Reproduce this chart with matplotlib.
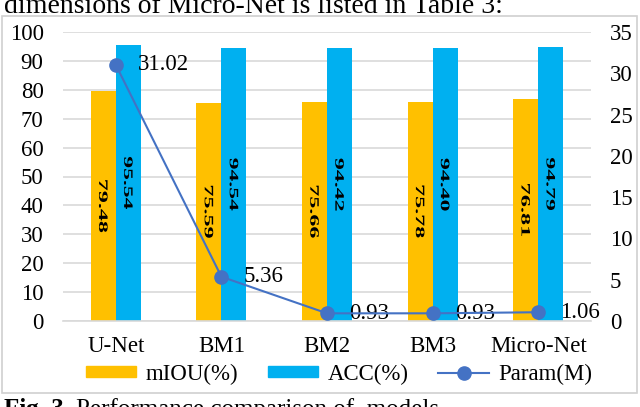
import matplotlib.pyplot as plt
from matplotlib.patches import Rectangle, PathPatch
from matplotlib.lines import Line2D
from matplotlib.textpath import TextPath
from matplotlib.font_manager import FontProperties
from matplotlib.transforms import Affine2D, IdentityTransform
import numpy as np

models = ['U-Net', 'BM1', 'BM2', 'BM3', 'Micro-Net']
miou = [79.48, 75.59, 75.66, 75.78, 76.81]
acc = [95.54, 94.54, 94.42, 94.40, 94.79]
param = [31.02, 5.36, 0.93, 0.93, 1.06]

ORANGE = '#FFC000'
BLUE = '#00B0F0'
LINE = '#4472C4'
GRID = '#D9D9D9'
FS = 16.5

plt.rcParams['font.family'] = ['Liberation Serif', 'DejaVu Serif']

W, H = 640, 407
fig = plt.figure(figsize=(6.4, 4.07), dpi=100)

# page text around the chart (cut by the screenshot)
fig.text(4 / W, 1.0 - 13 / H, 'dimensions of Micro-Net is listed in Table 3:',
         ha='left', va='baseline', fontsize=20)
renderer = fig.canvas.get_renderer()
t1 = fig.text(4 / W, -9 / H, 'Fig. 3.', ha='left', va='baseline', fontsize=18, fontweight='bold')
x_end = t1.get_window_extent(renderer).x1
fig.text((x_end + 6) / W, -9 / H, 'Performance comparison of  models', ha='left',
         va='baseline', fontsize=18)

# chart frame
fig.patches.append(Rectangle((2 / W, 14 / H), 635 / W, 377 / H, transform=fig.transFigure,
                             fill=False, edgecolor='#D0D0D0', linewidth=1.2))

ax = fig.add_axes([63 / W, (H - 321) / H, 528 / W, 289 / H])
x = np.arange(len(models))
bw = 0.237
ax.bar(x - bw / 2, miou, bw, color=ORANGE, zorder=2)
ax.bar(x + bw / 2, acc, bw, color=BLUE, zorder=2)

ax.set_xlim(-0.5, len(models) - 0.5)
ax.set_ylim(0, 100)
ax.set_yticks(np.arange(0, 101, 10))
ax.yaxis.grid(True, color=GRID, linewidth=1.2, zorder=0)
ax.set_axisbelow(True)
for s in ['top', 'right', 'left']:
    ax.spines[s].set_visible(False)
ax.spines['bottom'].set_color(GRID)
ax.spines['bottom'].set_linewidth(1.2)
ax.set_xticks(x)
ax.set_xticklabels(models)
ax.tick_params(axis='both', length=0, labelsize=FS)
ax.tick_params(axis='y', pad=14)
ax.tick_params(axis='x', pad=11)

ax2 = ax.twinx()
ax2.plot(x, param, color=LINE, linewidth=1.5, marker='o', markersize=9.5, zorder=4)
for i in range(len(models)):
    ax2.annotate(f'{param[i]:.2f}', (x[i], param[i]), xytext=(16, 0), textcoords='offset points',
                 ha='left', va='center', fontsize=FS)
ax2.set_ylim(0, 35)
ax2.set_yticks(np.arange(0, 36, 5))
for s in ['top', 'right', 'left', 'bottom']:
    ax2.spines[s].set_visible(False)
ax2.tick_params(axis='y', length=0, labelsize=FS, pad=13.5)

# squeezed vertical value labels inside the bars
fp = FontProperties(family='Liberation Serif', weight='bold')


def bar_label(xv, yv, s):
    tp = TextPath((0, 0), s, size=10, prop=fp)
    ext = tp.get_extents()
    sx = 52 / ext.width
    sy = 9 / 7.0
    px, py = ax.transData.transform((xv, yv))
    tr = (Affine2D().translate(-ext.x0 - ext.width / 2, -ext.y0 - ext.height / 2)
          .scale(sx, sy).rotate_deg(-90).translate(px, py))
    fig.patches.append(PathPatch(tr.transform_path(tp), transform=IdentityTransform(),
                                 facecolor='black', edgecolor='none', zorder=5))


for i in range(len(models)):
    bar_label(x[i] - bw / 2, miou[i] / 2, f'{miou[i]:.2f}')
    bar_label(x[i] + bw / 2, acc[i] / 2, f'{acc[i]:.2f}')

handles = [Rectangle((0, 0), 1, 1, color=ORANGE), Rectangle((0, 0), 1, 1, color=BLUE),
           Line2D([], [], color=LINE, linewidth=1.5, marker='o', markersize=9.5)]
fig.legend(handles, ['mIOU(%)', 'ACC(%)', 'Param(M)'], loc='center',
           bbox_to_anchor=(339 / W, 1 - 374 / H), ncol=3, frameon=False, fontsize=FS,
           handlelength=2.2, handleheight=0.4, handletextpad=0.4, columnspacing=1.3)

fig.savefig('out.png', dpi=100)
